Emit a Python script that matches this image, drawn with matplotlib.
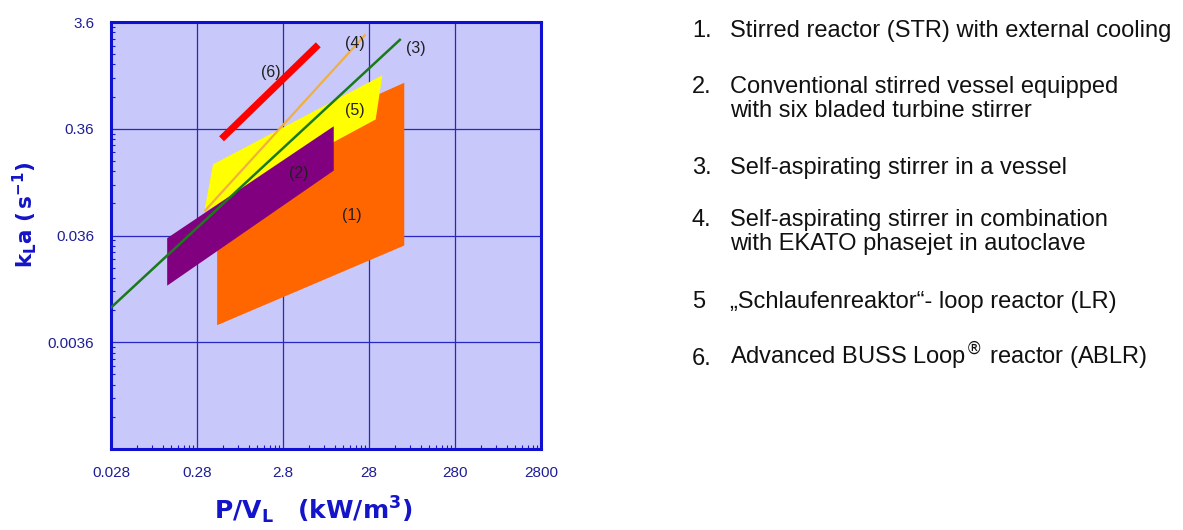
import numpy as np
import matplotlib
matplotlib.use('Agg')
import matplotlib.pyplot as plt
from matplotlib.ticker import FixedLocator, FixedFormatter, NullFormatter

plt.rcParams['font.family'] = ['Liberation Sans', 'DejaVu Sans']

# axis ticks (log scale, one decade apart)
x_ticks = [0.028, 0.28, 2.8, 28, 280, 2800]
x_ticklabels = ['0.028', '0.28', '2.8', '28', '280', '2800']
y_ticks = [0.00036, 0.0036, 0.036, 0.36, 3.6]
y_ticklabels = ['', '0.0036', '0.036', '0.36', '3.6']

# (1) stirred reactor with external cooling
str_x = [0.48, 72, 72, 0.48]
str_y = [0.0052, 0.029, 0.97, 0.16]
# (5) loop reactor
lr_x = [0.34, 33.5, 40, 0.43]
lr_y = [0.060, 0.44, 1.14, 0.167]
# (2) conventional stirred vessel
csv_x = [0.126, 10.9, 10.9, 0.126]
csv_y = [0.0122, 0.146, 0.38, 0.034]
# (3) self-aspirating stirrer
sas_x = [0.028, 64]
sas_y = [0.0076, 2.45]
# (4) self-aspirating stirrer + EKATO phasejet
ekato_x = [0.35, 25]
ekato_y = [0.062, 2.7]
# (6) advanced BUSS loop reactor
ablr_x = [0.54, 7.2]
ablr_y = [0.29, 2.2]

region_labels = ['(1)', '(2)', '(3)', '(4)', '(5)', '(6)']
label_x = [17.6, 4.3, 99, 19, 19, 2.0]
label_y = [0.055, 0.138, 2.05, 2.27, 0.53, 1.22]

legend_nums = ['1.', '2.', '', '3.', '4.', '', '5', '6.']
legend_lines = ['Stirred reactor (STR) with external cooling',
                'Conventional stirred vessel equipped',
                'with six bladed turbine stirrer',
                'Self-aspirating stirrer in a vessel',
                'Self-aspirating stirrer in combination',
                'with EKATO phasejet in autoclave',
                '\u201eSchlaufenreaktor\u201c- loop reactor (LR)',
                'Advanced BUSS Loop$^{\u00ae}$ reactor (ABLR)']
legend_ypix = [31, 87, 111, 168, 220, 244, 302, 359]

W, H = 1183, 530
fig = plt.figure(figsize=(W / 100, H / 100), dpi=100)
ax = fig.add_axes([111 / W, 1 - 449 / H, 430 / W, 427 / H])
ax.set_xscale('log')
ax.set_yscale('log')
ax.set_xlim(x_ticks[0], x_ticks[-1])
ax.set_ylim(y_ticks[0], y_ticks[-1])
ax.set_facecolor('#c8c8fa')

ax.fill(str_x, str_y, color='#ff6600', lw=0, zorder=2)
ax.fill(lr_x, lr_y, color='#ffff00', lw=0, zorder=3)
ax.fill(csv_x, csv_y, color='#800080', lw=0, zorder=4)
ax.plot(ekato_x, ekato_y, color='#f0b040', lw=1.6, zorder=5)
ax.plot(sas_x, sas_y, color='#1a7a1a', lw=1.8, zorder=6)
ax.plot(ablr_x, ablr_y, color='#ff0000', lw=5, zorder=7, solid_capstyle='butt')

for lab, lx, ly in zip(region_labels, label_x, label_y):
    ax.text(lx, ly, lab, fontsize=11.5, color='#202020', ha='center', va='center', zorder=8)

# ticks: majors at decades, minors at k*base
minor_x = [k * b for b in x_ticks[:-1] for k in range(2, 10)]
minor_y = [k * b for b in y_ticks[:-1] for k in range(2, 10)]
ax.xaxis.set_major_locator(FixedLocator(x_ticks))
ax.xaxis.set_major_formatter(FixedFormatter(x_ticklabels))
ax.xaxis.set_minor_locator(FixedLocator(minor_x))
ax.xaxis.set_minor_formatter(NullFormatter())
ax.yaxis.set_major_locator(FixedLocator(y_ticks))
ax.yaxis.set_major_formatter(FixedFormatter(y_ticklabels))
ax.yaxis.set_minor_locator(FixedLocator(minor_y))
ax.yaxis.set_minor_formatter(NullFormatter())

ax.grid(True, which='major', color='#2828c0', lw=0.9, zorder=1)
ax.set_axisbelow(True)
ax.tick_params(which='both', direction='in', top=False, right=False,
               color='#1818c8', labelcolor='#1e1e96', labelsize=11)
ax.tick_params(which='major', length=0, pad=12)
ax.tick_params(which='minor', length=3, width=0.8)
for s in ax.spines.values():
    s.set_color('#1010d0')
    s.set_linewidth(2.2)

fig.text(313 / W, 1 - 510 / H, r'$\mathbf{P/V_L\ \ \ (kW/m^3)}$', fontsize=18,
         color='#1414c8', ha='center', va='center')
fig.text(25 / W, 1 - 215 / H, r'$\mathbf{k_L a\ (\,s^{-1})}$', fontsize=15.5,
         color='#1414c8', ha='center', va='center', rotation=90)

for num, line, yp in zip(legend_nums, legend_lines, legend_ypix):
    if num:
        fig.text(692 / W, 1 - (yp + 6) / H, num, fontsize=17, color='#111111', va='baseline')
    fig.text(730 / W, 1 - (yp + 6) / H, line, fontsize=17, color='#111111', va='baseline')

fig.savefig('out.png', dpi=100)
